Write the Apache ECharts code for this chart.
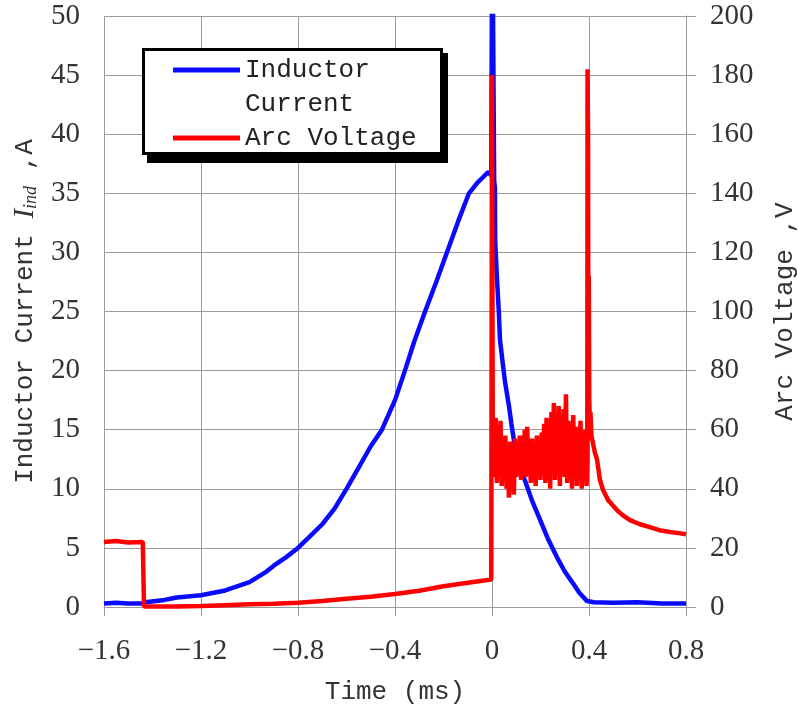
<!DOCTYPE html>
<html>
<head>
<meta charset="utf-8">
<script src="https://cdn.jsdelivr.net/npm/echarts@6/dist/echarts.min.js"></script>
<style>html,body{margin:0;padding:0;background:#fff}#c{width:798px;height:711px}</style>
</head>
<body>
<div id="c"></div>
<script>
// ---- data ----
const xTicks = [-1.6, -1.2, -0.8, -0.4, 0, 0.4, 0.8];
const leftTicks = [0, 5, 10, 15, 20, 25, 30, 35, 40, 45, 50];
const rightTicks = [0, 20, 40, 60, 80, 100, 120, 140, 160, 180, 200];

// Inductor current (A)
const timeI = [-1.6, -1.55, -1.5, -1.44, -1.43, -1.35, -1.3, -1.2, -1.1, -1.0, -0.93, -0.9, -0.85, -0.8,
  -0.75, -0.7, -0.65, -0.6, -0.55, -0.5, -0.454, -0.4, -0.359, -0.32, -0.276, -0.23, -0.186, -0.14,
  -0.095, -0.06, -0.035, -0.016, -0.003, 0.001, 0.009, 0.012, 0.013, 0.02, 0.028, 0.033, 0.045, 0.054, 0.07,
  0.08, 0.095, 0.11, 0.136, 0.165, 0.198, 0.23, 0.268, 0.3, 0.334, 0.36, 0.392, 0.42, 0.5, 0.6, 0.7, 0.8];
const currentA = [0.3, 0.35, 0.3, 0.3, 0.4, 0.6, 0.8, 1.0, 1.4, 2.1, 3.0, 3.5, 4.2, 5.0,
  6.0, 7.0, 8.3, 10.0, 11.8, 13.6, 15.0, 17.5, 20.0, 22.5, 25.0, 27.5, 30.0, 32.6,
  35.0, 35.9, 36.4, 36.8, 36.5, 60, 36, 35.5, 31, 28, 25, 22.6, 20.5, 19, 17,
  15.5, 13.5, 12.0, 10.7, 9.0, 7.4, 5.8, 4.2, 3.0, 2.0, 1.2, 0.5, 0.4, 0.35, 0.4, 0.3, 0.3];

// Arc voltage (V)
const timeV = [-1.6, -1.55, -1.5, -1.44, -1.435, -1.3, -1.2, -1.1, -1.0, -0.9, -0.8, -0.7, -0.6, -0.5,
  -0.4, -0.3, -0.2, -0.1, -0.003, 0.0, 0.003,
  0.005, 0.010, 0.015, 0.020, 0.025, 0.030, 0.035, 0.040, 0.045, 0.050, 0.055, 0.060, 0.065, 0.070,
  0.075, 0.080, 0.085, 0.090, 0.095, 0.100, 0.105, 0.110, 0.115, 0.120, 0.125, 0.130, 0.135, 0.140,
  0.145, 0.150, 0.155, 0.160, 0.165, 0.170, 0.175, 0.180, 0.185, 0.190, 0.195, 0.200, 0.205, 0.210,
  0.215, 0.220, 0.225, 0.230, 0.235, 0.240, 0.245, 0.250, 0.255, 0.260, 0.265, 0.270, 0.275, 0.280,
  0.285, 0.290, 0.295, 0.300, 0.305, 0.310, 0.315, 0.320, 0.325, 0.330, 0.335, 0.340, 0.345, 0.350,
  0.355, 0.360, 0.365, 0.370, 0.375, 0.380, 0.385, 0.390,
  0.393, 0.394, 0.396, 0.397, 0.399, 0.401, 0.403, 0.406, 0.41, 0.416, 0.425, 0.433, 0.445, 0.458,
  0.48, 0.515, 0.54, 0.569, 0.61, 0.651, 0.69, 0.734, 0.77, 0.8];
const voltageV = [22, 22.3, 21.8, 22, 0.2, 0.2, 0.3, 0.6, 0.9, 1.1, 1.4, 2.0, 2.8, 3.5,
  4.4, 5.5, 7.0, 8.2, 9.3, 180, 63,
  62, 44, 64, 42, 60, 46, 63, 41, 55, 45, 58, 40, 52, 37,
  56, 43, 54, 38, 57, 44, 53, 46, 58, 43, 55, 47, 60, 44,
  61, 48, 56, 42, 57, 46, 54, 41, 58, 45, 55, 43, 59, 47,
  62, 42, 64, 48, 57, 40, 66, 45, 69, 43, 62, 47, 68, 41,
  64, 46, 67, 44, 72, 42, 63, 49, 60, 40, 65, 45, 61, 41,
  58, 47, 63, 40, 57, 44, 60, 41,
  50, 182, 160, 110, 112, 70, 64, 66, 58, 58, 52, 50, 43, 39.6,
  36, 32.8, 31, 29.4, 28, 27, 26, 25.4, 25, 24.6];

// ---- chart ----
const gridColor = '#9a9a9a';
const textColor = '#333333';
const monoFont = '"Liberation Mono", "DejaVu Sans Mono", monospace';
const serifFont = '"Liberation Serif", "DejaVu Serif", serif';

function fmtX(v) {
  const r = Math.round(v * 10) / 10;
  if (r === 0) return '0';
  return (r < 0 ? '\u2212' : '') + Math.abs(r).toFixed(1);
}

const chart = echarts.init(document.getElementById('c'), null, {renderer: 'canvas'});
chart.setOption({
  animation: false,
  backgroundColor: '#ffffff',
  grid: {left: 104, right: 112, top: 16, bottom: 104, containLabel: false, outerBoundsMode: 'none'},
  xAxis: {
    type: 'value', min: xTicks[0], max: xTicks[xTicks.length - 1], interval: 0.4,
    name: 'Time (ms)', nameLocation: 'middle', nameGap: 72,
    nameTextStyle: {fontFamily: monoFont, fontSize: 26, color: textColor},
    axisLine: {show: true, onZero: false, lineStyle: {color: gridColor, width: 1}},
    axisTick: {show: true, inside: false, length: 9, lineStyle: {color: gridColor}},
    axisLabel: {formatter: fmtX, margin: 30, fontFamily: serifFont, fontSize: 29, color: textColor,
      showMinLabel: true, showMaxLabel: true, hideOverlap: false},
    splitLine: {show: true, lineStyle: {color: gridColor, width: 1}}
  },
  yAxis: [{
    type: 'value', min: leftTicks[0], max: leftTicks[leftTicks.length - 1], interval: 5, position: 'left',
    name: '{n|Inductor Current }{i|I}{s|ind}{n| ,A}', nameLocation: 'middle', nameGap: 64, nameRotate: 90,
    nameTextStyle: {
      color: textColor, fontFamily: monoFont, fontSize: 26,
      rich: {
        n: {fontFamily: monoFont, fontSize: 26, color: textColor},
        i: {fontFamily: serifFont, fontStyle: 'italic', fontSize: 29, color: textColor},
        s: {fontFamily: serifFont, fontStyle: 'italic', fontSize: 18, color: textColor, verticalAlign: 'bottom'}
      }
    },
    axisLine: {show: true, lineStyle: {color: gridColor, width: 1}},
    axisTick: {show: true, inside: false, length: 9, lineStyle: {color: gridColor}},
    axisLabel: {margin: 24, fontFamily: serifFont, fontSize: 29, color: textColor,
      showMinLabel: true, showMaxLabel: true, hideOverlap: false},
    splitLine: {show: true, lineStyle: {color: gridColor, width: 1}}
  }, {
    type: 'value', min: rightTicks[0], max: rightTicks[rightTicks.length - 1], interval: 20, position: 'right',
    name: 'Arc Voltage ,V', nameLocation: 'middle', nameGap: 86, nameRotate: 90,
    nameTextStyle: {fontFamily: monoFont, fontSize: 26, color: textColor},
    axisLine: {show: true, lineStyle: {color: gridColor, width: 1}},
    axisTick: {show: true, inside: false, length: 10, lineStyle: {color: gridColor}},
    axisLabel: {margin: 24, fontFamily: serifFont, fontSize: 29, color: textColor,
      showMinLabel: true, showMaxLabel: true, hideOverlap: false},
    splitLine: {show: false}
  }],
  legend: {
    orient: 'vertical', left: 173, top: 19, padding: 0, itemGap: 0,
    itemWidth: 67, itemHeight: 5, icon: 'rect', z: 20,
    selectedMode: false,
    data: ['Inductor Current', 'Arc Voltage'],
    formatter: function (name) {
      return name === 'Inductor Current' ? '\nInductor\nCurrent' : name;
    },
    textStyle: {fontFamily: monoFont, fontSize: 26, lineHeight: 34, color: '#222222'}
  },
  graphic: [{
    type: 'rect', z: 9, silent: true,
    shape: {x: 147, y: 53, width: 301, height: 110},
    style: {fill: '#000000', stroke: null}
  }, {
    type: 'rect', z: 10, silent: true,
    shape: {x: 143.5, y: 49.5, width: 298, height: 104},
    style: {fill: '#ffffff', stroke: '#000000', lineWidth: 3}
  }],
  series: [{
    name: 'Inductor Current', type: 'line', yAxisIndex: 0,
    data: timeI.map((t, i) => [t, currentA[i]]),
    showSymbol: false, symbol: 'none', clip: true,
    color: '#0a0aff', itemStyle: {color: '#0a0aff'},
    lineStyle: {color: '#0a0aff', width: 4.5}, z: 2
  }, {
    name: 'Arc Voltage', type: 'line', yAxisIndex: 1,
    data: timeV.map((t, i) => [t, voltageV[i]]),
    showSymbol: false, symbol: 'none', clip: true,
    color: '#ff0000', itemStyle: {color: '#ff0000'},
    lineStyle: {color: '#ff0000', width: 4.5}, z: 3
  }]
});
</script>
</body>
</html>
